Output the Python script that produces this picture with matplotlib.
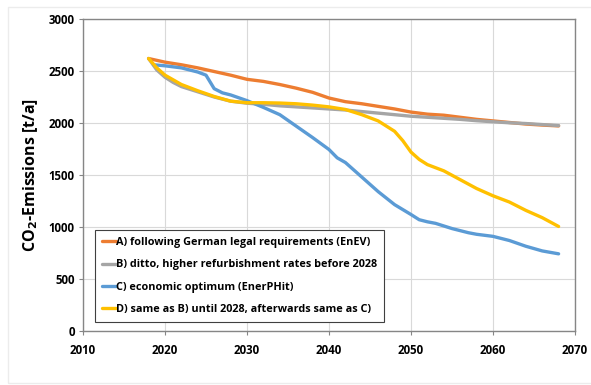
import matplotlib
matplotlib.use("Agg")
import matplotlib.pyplot as plt
from matplotlib.patches import Rectangle

plt.rcParams['font.family'] = ['Open Sans', 'DejaVu Sans']
plt.rcParams['font.weight'] = 'bold'

# scenario A: following German legal requirements
yr_a = [2018, 2020, 2022, 2024, 2026, 2028, 2030, 2032, 2034, 2036, 2038, 2040, 2042,
        2044, 2046, 2048, 2050, 2052, 2054, 2056, 2058, 2060, 2062, 2064, 2066, 2068]
co2_a = [2620, 2585, 2560, 2530, 2495, 2460, 2420, 2400, 2370, 2335, 2295, 2240, 2205,
         2185, 2160, 2135, 2105, 2085, 2075, 2055, 2035, 2020, 2005, 1990, 1980, 1972]

# scenario B: higher refurbishment rates before 2028
yr_b = [2018, 2019, 2020, 2021, 2022, 2024, 2026, 2028, 2030, 2032, 2034, 2036, 2038, 2040,
        2042, 2044, 2046, 2048, 2050, 2052, 2054, 2056, 2058, 2060, 2062, 2064, 2066, 2068]
co2_b = [2620, 2510, 2440, 2390, 2350, 2300, 2250, 2210, 2190, 2180, 2165, 2155, 2145, 2135,
         2125, 2110, 2095, 2080, 2065, 2055, 2045, 2035, 2022, 2012, 2002, 1995, 1985, 1975]

# scenario C: economic optimum
yr_c = [2018.6, 2020, 2022, 2024, 2025, 2026, 2027, 2028, 2030, 2032, 2034, 2036, 2038, 2040,
        2041, 2042, 2044, 2046, 2048, 2050, 2051, 2052, 2053, 2055, 2057, 2058, 2060, 2062,
        2064, 2066, 2068]
co2_c = [2560, 2550, 2530, 2490, 2460, 2330, 2290, 2270, 2215, 2150, 2080, 1970, 1860, 1745,
         1665, 1620, 1480, 1340, 1215, 1120, 1070, 1050, 1035, 985, 945, 930, 910, 870,
         815, 770, 742]

# scenario D: B until 2028, then C
yr_d = [2018, 2019, 2020, 2022, 2024, 2026, 2028, 2030, 2032, 2034, 2036, 2038, 2040, 2042,
        2044, 2046, 2048, 2049, 2050, 2051, 2052, 2054, 2056, 2058, 2060, 2062, 2064, 2066, 2068]
co2_d = [2620, 2530, 2460, 2370, 2310, 2255, 2210, 2195, 2195, 2192, 2185, 2172, 2155, 2130,
         2080, 2020, 1920, 1830, 1720, 1650, 1600, 1540, 1455, 1370, 1300, 1240, 1160, 1090, 1005]

labels = ['A) following German legal requirements (EnEV)',
          'B) ditto, higher refurbishment rates before 2028',
          'C) economic optimum (EnerPHit)',
          'D) same as B) until 2028, afterwards same as C)']
colors = ['#ED7D31', '#A5A5A5', '#5B9BD5', '#FFC000']

fig = plt.figure(figsize=(5.91, 3.85), dpi=100)
fig.patches.append(Rectangle((8/591, 2/385), 1.0, 376/385, transform=fig.transFigure,
                             fill=False, edgecolor='#ececec', lw=1.0))
ax = fig.add_axes([83/591, 1-331/385, 492/591, 312/385])

for (x, y), c, lab in zip([(yr_a, co2_a), (yr_b, co2_b), (yr_c, co2_c), (yr_d, co2_d)],
                          colors, labels):
    ax.plot(x, y, color=c, lw=2.4, label=lab, solid_capstyle='round', solid_joinstyle='round')

ax.set_xlim(2010, 2070)
ax.set_ylim(0, 3000)
ax.set_xticks(range(2010, 2071, 10))
ax.set_yticks(range(0, 3001, 500))
ax.grid(True, color='#d9d9d9', lw=0.8)
ax.set_axisbelow(True)
for s in ax.spines.values():
    s.set_color('#868686')
    s.set_linewidth(1.0)
ax.tick_params(axis='both', colors='#868686', labelcolor='black', labelsize=8.3,
               length=3, width=0.8, pad=3)
ax.tick_params(axis='x', pad=6)
for t in ax.get_xticklabels() + ax.get_yticklabels():
    t.set_fontweight('bold')
ax.set_ylabel('CO$_2$-Emissions [t/a]', fontsize=11.5, fontweight='bold', labelpad=6)

leg = ax.legend(loc='lower left', bbox_to_anchor=(7/492, 4/312), fontsize=7.8,
                handlelength=1.3, handletextpad=0.0, borderpad=0.6, labelspacing=1.05,
                fancybox=False, framealpha=1, edgecolor='#404040')
leg.get_frame().set_linewidth(0.8)
for t in leg.get_texts():
    t.set_fontweight('bold')

fig.savefig('out.png', dpi=100)
